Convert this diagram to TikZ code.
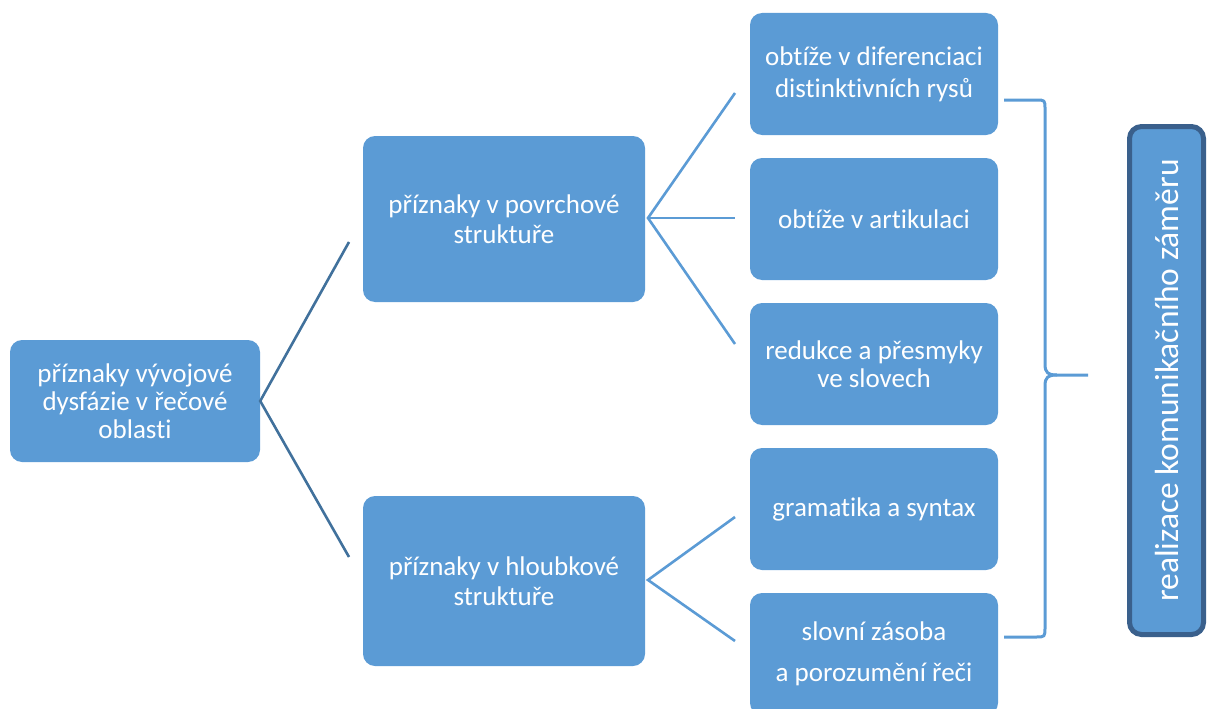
\documentclass[tikz,border=0pt]{standalone}
\usepackage{fontspec}
\setmainfont[Ligatures=CommonOff]{Carlito}
\definecolor{boxblue}{RGB}{91,155,213}
\definecolor{linkdark}{RGB}{65,113,156}
\definecolor{edgeblue}{RGB}{58,96,140}
\begin{document}
\begin{tikzpicture}[x=1pt,y=-1pt,
  box/.style={rectangle, rounded corners=12pt, fill=boxblue, text=white,
    align=center, inner sep=0pt, font=\fontsize{27}{28}\selectfont},
  leaf/.style={box, minimum width=248pt, minimum height=122pt},
  mid/.style={box, minimum width=282pt},
  rootlink/.style={draw=linkdark, line width=2.6pt},
  leaflink/.style={draw=boxblue, line width=2.6pt},
  bracket/.style={draw=boxblue, line width=3pt, line join=round}]
\useasboundingbox (0,0) rectangle (1208,709);
\clip (0,0) rectangle (1208,709);

% boxes
\node[box, minimum width=250pt, minimum height=122pt] (root) at (135,401)
  {příznaky vývojové\\dysfázie v řečové\\oblasti};
\node[mid, minimum height=166pt] (surf) at (504,219)
  {příznaky v povrchové\\[2pt]struktuře};
\node[mid, minimum height=170pt] (deep) at (504,581)
  {příznaky v hloubkové\\[2pt]struktuře};

\node[leaf] (l1) at (874,74) {obtíže v diferenciaci\\[4pt]distinktivních rysů};
\node[leaf] (l2) at (874,219) {obtíže v artikulaci};
\node[leaf] (l3) at (874,364) {redukce a přesmyky\\ve slovech};
\node[leaf] (l4) at (874,509) {gramatika a syntax};
\node[leaf] (l5) at (874,654) {slovní zásoba\\[13pt]a porozumění řeči};

\node[box, draw=edgeblue, line width=5pt, rotate=90, minimum width=508pt,
  minimum height=74pt, font=\fontsize{33.5}{36}\selectfont] (goal) at (1166.5,380.5)
  {realizace komunikačního záměru};

% connectors
\coordinate (surfIn) at (349,242);
\coordinate (deepIn) at (349,557);
\draw[rootlink] (surfIn) -- (root.east) -- (deepIn);

\coordinate (surfOut) at (648,218);
\coordinate (l1In) at (735,93);
\coordinate (l2In) at (735,218);
\coordinate (l3In) at (735,344);
\draw[leaflink] (l1In) -- (surfOut) -- (l3In);
\draw[leaflink] (surfOut) -- (l2In);

\coordinate (deepOut) at (648,580);
\coordinate (l4In) at (735,517);
\coordinate (l5In) at (735,641);
\draw[leaflink] (l4In) -- (deepOut) -- (l5In);

% brace grouping the leaves
\draw[bracket] (1004,100) -- (1036,100)
  .. controls (1045,100) .. (1045,109) -- (1045,364)
  .. controls (1045,373) and (1048,375) .. (1057,375) -- (1088,375);
\draw[bracket] (1057,375)
  .. controls (1048,375) and (1045,377) .. (1045,386) -- (1045,627)
  .. controls (1045,637) .. (1036,637) -- (1004,637);
\end{tikzpicture}
\end{document}
